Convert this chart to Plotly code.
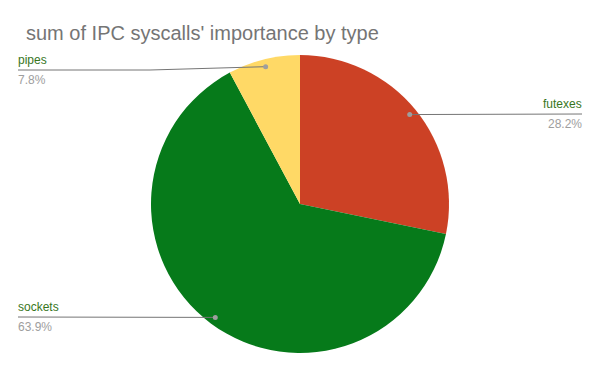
import math
import plotly.graph_objects as go

labels = ["futexes", "sockets", "pipes"]
values = [28.2, 63.9, 7.8]
colors = ["#cc4125", "#067a1a", "#ffd966"]

W, H = 600, 371
cx, cy, R = 300, 204, 149

fig = go.Figure(go.Pie(
    labels=labels, values=values, sort=False, direction="clockwise",
    rotation=0, marker=dict(colors=colors, line=dict(width=0)),
    textinfo="none", hoverinfo="label+percent", showlegend=False,
    domain=dict(x=[(cx - R) / W, (cx + R) / W], y=[1 - (cy + R) / H, 1 - (cy - R) / H]),
))

total = sum(values)
shapes, annotations = [], []
cum = 0.0
label_cfg = {
    "futexes": dict(side="right", ly=114, xend=582),
    "sockets": dict(side="left", ly=317, xend=18),
    "pipes": dict(side="left", ly=70, xend=18, bend=150),
}
for lab, v in zip(labels, values):
    mid = (cum + v / 2) / total * 2 * math.pi
    cum += v
    dx = cx + 0.95 * R * math.sin(mid)
    dy = cy - 0.95 * R * math.cos(mid)
    cfg = label_cfg[lab]
    px = lambda x: x / W
    py = lambda y: 1 - y / H
    ly = cfg["ly"]
    if "bend" in cfg:
        pts = [(dx, dy), (cfg["bend"], ly), (cfg["xend"], ly)]
    else:
        pts = [(dx, dy), (cfg["xend"], ly)]
    path = "M " + " L ".join(f"{px(x)},{py(y)}" for x, y in pts)
    shapes.append(dict(type="path", xref="paper", yref="paper", path=path,
                       line=dict(color="#757575", width=1)))
    shapes.append(dict(type="circle", xref="paper", yref="paper",
                       x0=px(dx - 2.5), x1=px(dx + 2.5), y0=py(dy + 2.5), y1=py(dy - 2.5),
                       fillcolor="#9e9e9e", line=dict(width=0)))
    right = cfg["side"] == "right"
    xanchor = "right" if right else "left"
    xs = 2 if right else -2
    annotations.append(dict(xref="paper", yref="paper", x=px(cfg["xend"]), y=py(ly - 1),
                            text=lab, showarrow=False, xanchor=xanchor, yanchor="bottom", xshift=xs,
                            font=dict(family="Liberation Sans, Arial", size=12, color="#38761d")))
    annotations.append(dict(xref="paper", yref="paper", x=px(cfg["xend"]), y=py(ly + 1),
                            text=f"{v:.1f}%", showarrow=False, xanchor=xanchor, yanchor="top", xshift=xs,
                            font=dict(family="Liberation Sans, Arial", size=12, color="#9e9e9e")))

annotations.append(dict(xref="paper", yref="paper", x=24 / W, y=1 - 33 / H,
                        text="sum of IPC syscalls' importance by type", showarrow=False,
                        xanchor="left", yanchor="middle",
                        font=dict(family="Liberation Sans, Arial", size=20, color="#757575")))

fig.update_layout(width=W, height=H, margin=dict(l=0, r=0, t=0, b=0),
                  paper_bgcolor="white", plot_bgcolor="white",
                  shapes=shapes, annotations=annotations)
fig.write_html("out.html")
